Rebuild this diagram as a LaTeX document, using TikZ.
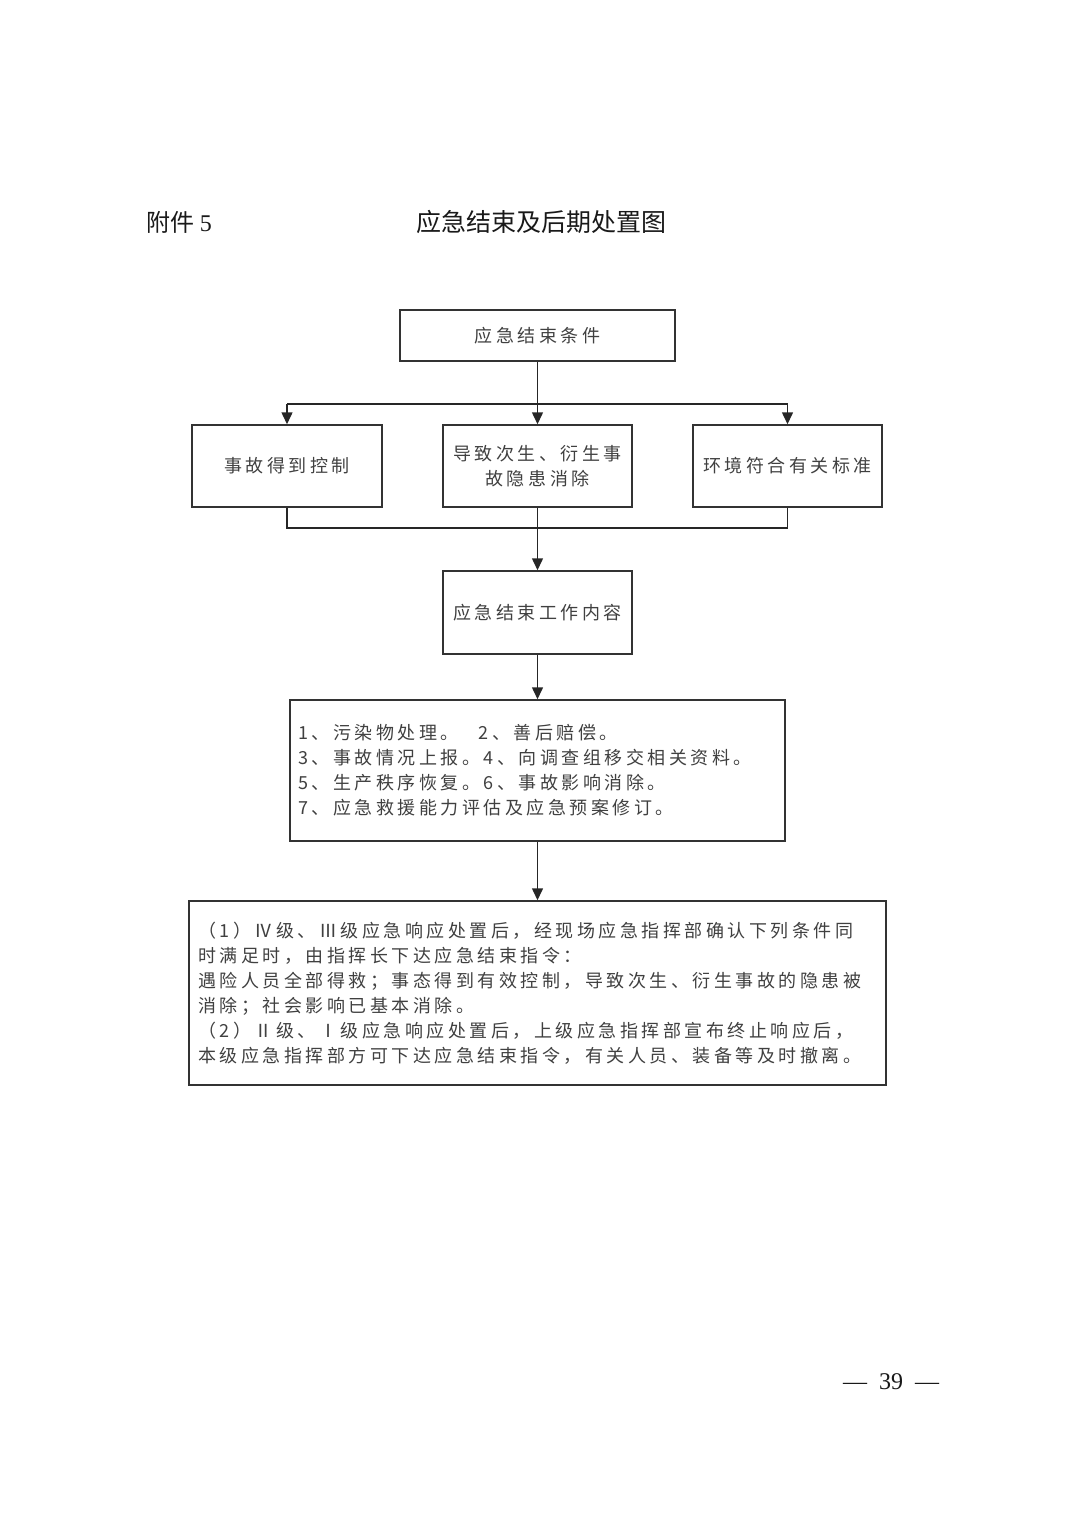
\documentclass[tikz,border=0pt]{standalone}
\usepackage{fontspec}
\setmainfont{Liberation Serif}
\newfontfamily\cjk[LetterSpace=19.5]{Noto Sans CJK SC}
\newfontfamily\cjkt{Noto Sans CJK SC}
\usetikzlibrary{arrows.meta}
\begin{document}
\begin{tikzpicture}[x=1pt,y=-1pt,
  box/.style={draw=black!80, line width=1.5pt, inner sep=0pt, text=black!75,
    font=\cjk\fontsize{18}{25}\selectfont, align=center},
  wire/.style={draw=black!85, line width=1.5pt},
  arr/.style={wire, -{Triangle[length=12pt,width=11pt]}}]
\useasboundingbox (0,0) rectangle (1074,1520);
% titles
\node[anchor=west, font=\cjkt\fontsize{24}{24}\selectfont, text=black!90] (t1) at (143,222) {附件\ {\rmfamily 5}};
\node[anchor=west, font=\cjkt\fontsize{25}{25}\selectfont, text=black!90] (t2) at (413,222) {应急结束及后期处置图};
% boxes
\node[box, minimum width=275pt, minimum height=51pt] (A) at (537.5,335.5) {应急结束条件};
\node[box, minimum width=190pt, minimum height=82pt] (B1) at (287,466) {事故得到控制};
\node[box, minimum width=189pt, minimum height=82pt] (B2) at (537.5,466) {导致次生、衍生事\\故隐患消除};
\node[box, minimum width=189pt, minimum height=82pt] (B3) at (787.5,466) {环境符合有关标准};
\node[box, minimum width=189pt, minimum height=83pt] (C) at (537.5,612.5) {应急结束工作内容};
\node[box, minimum width=495pt, minimum height=141pt, text width=479pt, align=left, inner xsep=8pt] (D) at (537.5,770.5)
 {1、污染物处理。\hspace{20pt}2、善后赔偿。\\
  3、事故情况上报。4、向调查组移交相关资料。\\
  5、生产秩序恢复。6、事故影响消除。\\
  7、应急救援能力评估及应急预案修订。};
\node[box, minimum width=697pt, minimum height=184pt, text width=679pt, align=left, inner xsep=9pt] (E) at (537.5,993)
 {（1）Ⅳ级、Ⅲ级应急响应处置后，经现场应急指挥部确认下列条件同\\
  时满足时，由指挥长下达应急结束指令：\\
  遇险人员全部得救；事态得到有效控制，导致次生、衍生事故的隐患被\\
  消除；社会影响已基本消除。\\
  （2）Ⅱ级、Ⅰ级应急响应处置后，上级应急指挥部宣布终止响应后，\\
  本级应急指挥部方可下达应急结束指令，有关人员、装备等及时撤离。};
% connectors
\coordinate (fork) at (537.5,404);
\coordinate (join) at (537.5,528);
\draw[arr] (A.south) -- (B2.north);
\draw[wire] (B1.north |- fork) -- (B3.north |- fork);
\draw[arr] (B1.north |- fork) -- (B1.north);
\draw[arr] (B3.north |- fork) -- (B3.north);
\draw[wire] (B1.south) -- (B1.south |- join) -- (B3.south |- join) -- (B3.south);
\draw[arr] (B2.south) -- (C.north);
\draw[arr] (C.south) -- (D.north);
\draw[arr] (D.south) -- (E.north);
% page number
\node[font=\fontsize{24}{24}\selectfont, text=black!90] (pg) at (891,1382) {—\hspace{12pt}39\hspace{12pt}—};
\end{tikzpicture}
\end{document}
